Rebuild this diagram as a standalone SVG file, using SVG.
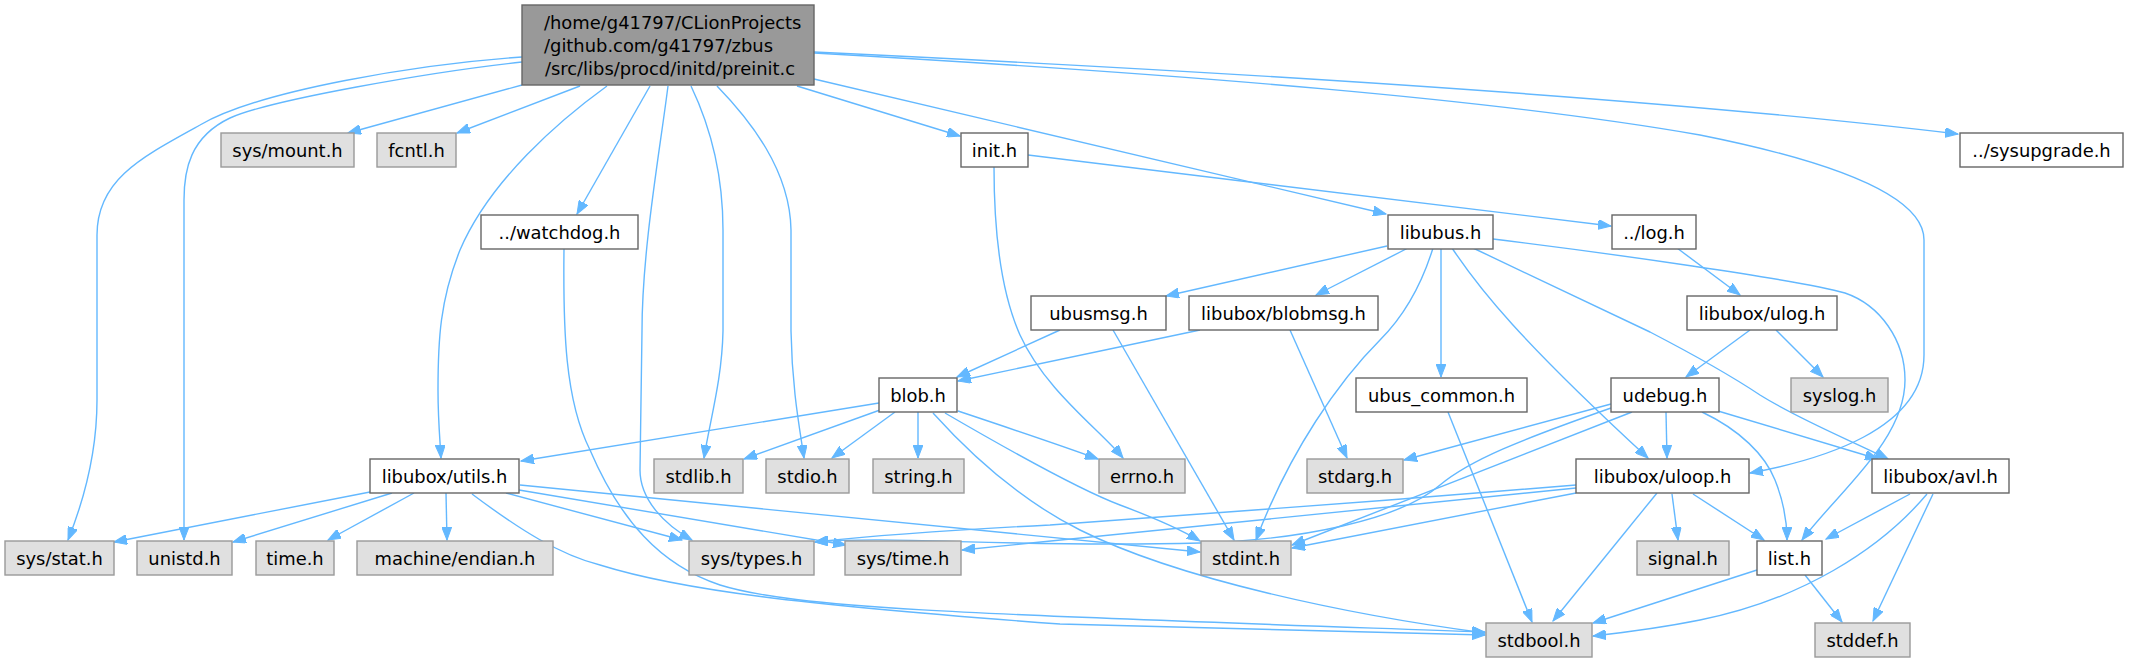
<svg xmlns="http://www.w3.org/2000/svg" width="2140" height="662" viewBox="0 0 2140 662">
<style>
.n rect{stroke-width:1.4}
.w rect{fill:#ffffff;stroke:#666666}
.g rect{fill:#e0e0e0;stroke:#999999}
.m rect{fill:#999999;stroke:#666666}
text{font-family:"DejaVu Sans",Verdana,sans-serif;font-size:17.9px;fill:#000000}
.c{text-anchor:middle}
#edges path{fill:none;stroke:#63b8ff;stroke-width:1.4;marker-end:url(#ah)}
</style>
<defs>
<marker id="ah" markerUnits="userSpaceOnUse" markerWidth="14" markerHeight="10" refX="13" refY="5" orient="auto">
<path d="M0,0 L13,5 L0,10 z" fill="#63b8ff" stroke="#63b8ff" stroke-width="1"/>
</marker>
</defs>
<rect width="2140" height="662" fill="#ffffff"/>
<g id="edges">
<path d="M522,57 C420,64 260,90 200,125 C140,158 97,180 97,235 L97,400 C97,460 80,510 68,540"/>
<path d="M522,62 C430,72 270,100 230,118 C190,137 184,170 184,200 L184,540"/>
<path d="M522,85 L348,133"/>
<path d="M580,86 L457,133"/>
<path d="M607,86 C560,120 490,180 460,250 C440,300 438,340 438,390 C438,420 440,440 441,458"/>
<path d="M650,86 L577,214"/>
<path d="M668,86 C660,150 642,250 642,331 L640,470 C640,500 665,525 692,540"/>
<path d="M691,86 C712,130 723,180 723,230 L723,331 C722,380 710,420 704,458"/>
<path d="M717,86 C750,120 790,170 791,230 L791,331 C792,390 800,430 804,458"/>
<path d="M797,86 L960,136"/>
<path d="M814,79 L1386,214"/>
<path d="M814,52 C1300,75 1700,103 1958,134"/>
<path d="M814,53 C1200,75 1500,100 1700,135 C1850,165 1924,200 1924,240 L1924,355 C1924,430 1820,460 1750,473"/>
<path d="M564,248 C563,330 565,400 590,450 C620,520 660,565 720,585 C800,610 1000,615 1485,632"/>
<path d="M1028,155 L1611,226"/>
<path d="M994,167 C994,230 1000,290 1020,335 C1045,390 1100,430 1123,458"/>
<path d="M1677,248 L1740,295"/>
<path d="M1750,330 L1686,377"/>
<path d="M1776,330 L1823,377"/>
<path d="M1387,246 L1166,296"/>
<path d="M1408,248 L1316,295"/>
<path d="M1433,248 C1420,290 1400,320 1380,340 C1340,380 1290,450 1256,540"/>
<path d="M1441,248 L1441,377"/>
<path d="M1452,248 C1480,290 1520,340 1648,458"/>
<path d="M1473,248 L1650,332 C1700,358 1730,375 1760,395 C1800,420 1850,440 1888,459"/>
<path d="M1493,239 C1600,252 1800,280 1845,293 C1880,305 1905,340 1905,380 C1905,440 1840,490 1802,540"/>
<path d="M1060,330 L957,377"/>
<path d="M1113,330 L1234,540"/>
<path d="M1200,330 L958,381"/>
<path d="M1290,330 L1347,458"/>
<path d="M879,403 L521,461"/>
<path d="M880,410 L744,459"/>
<path d="M895,412 L832,458"/>
<path d="M918,412 L918,458"/>
<path d="M958,411 C1000,425 1060,445 1098,459"/>
<path d="M945,413 C1000,445 1080,490 1120,505 C1160,520 1185,532 1200,541"/>
<path d="M933,413 C980,465 1030,505 1080,530 C1180,580 1350,615 1485,633"/>
<path d="M1448,412 L1532,622"/>
<path d="M1611,404 L1404,460"/>
<path d="M1632,412 L1292,545"/>
<path d="M1611,408 C1520,440 1470,460 1440,485 C1400,520 1300,540 1200,543 C1000,548 900,535 815,542"/>
<path d="M1666,412 L1667,458"/>
<path d="M1702,412 C1740,430 1765,455 1775,480 C1785,505 1787,525 1787,540"/>
<path d="M1718,411 L1878,459"/>
<path d="M1576,485 C1400,500 1150,518 1050,525 C950,530 880,535 815,542"/>
<path d="M1576,488 L962,550"/>
<path d="M1576,493 L1292,548"/>
<path d="M1657,493 L1553,621"/>
<path d="M1672,494 L1678,540"/>
<path d="M1693,494 L1764,540"/>
<path d="M1910,494 L1826,539"/>
<path d="M1933,494 L1873,621"/>
<path d="M1927,494 C1880,550 1800,600 1700,620 C1660,628 1620,633 1593,636"/>
<path d="M1805,575 L1842,622"/>
<path d="M1757,570 L1593,623"/>
<path d="M370,492 L114,542"/>
<path d="M392,493 L233,542"/>
<path d="M414,493 L328,540"/>
<path d="M446,493 L447,540"/>
<path d="M506,493 L682,540"/>
<path d="M519,490 L846,545"/>
<path d="M520,485 L1200,552"/>
<path d="M472,494 C520,530 560,555 600,565 C680,590 800,605 1060,624 L1485,635"/>
</g>
<g id="n_main" class="n m"><rect x="522" y="5" width="292" height="80"/><text x="544" y="29.3">/home/g41797/CLionProjects</text><text x="544" y="52.3">/github.com/g41797/zbus</text><text class="c" x="670" y="75.3">/src/libs/procd/initd/preinit.c</text></g>
<g id="n_sysmount" class="n g"><rect x="221" y="133" width="133" height="34"/><text class="c" x="287.5" y="156.5">sys/mount.h</text></g>
<g id="n_fcntl" class="n g"><rect x="377" y="133" width="79" height="34"/><text class="c" x="416.5" y="156.5">fcntl.h</text></g>
<g id="n_init" class="n w"><rect x="961" y="133" width="67" height="34"/><text class="c" x="994.5" y="156.5">init.h</text></g>
<g id="n_sysupgrade" class="n w"><rect x="1960" y="133" width="163" height="34"/><text class="c" x="2041.5" y="156.5">../sysupgrade.h</text></g>
<g id="n_watchdog" class="n w"><rect x="481" y="215" width="157" height="34"/><text class="c" x="559.5" y="238.5">../watchdog.h</text></g>
<g id="n_libubus" class="n w"><rect x="1388" y="215" width="105" height="34"/><text class="c" x="1440.5" y="238.5">libubus.h</text></g>
<g id="n_log" class="n w"><rect x="1612" y="215" width="84" height="34"/><text class="c" x="1654" y="238.5">../log.h</text></g>
<g id="n_ubusmsg" class="n w"><rect x="1031" y="296" width="135" height="34"/><text class="c" x="1098.5" y="319.5">ubusmsg.h</text></g>
<g id="n_blobmsg" class="n w"><rect x="1189" y="296" width="189" height="34"/><text class="c" x="1283.5" y="319.5">libubox/blobmsg.h</text></g>
<g id="n_ulog" class="n w"><rect x="1687" y="296" width="150" height="34"/><text class="c" x="1762" y="319.5">libubox/ulog.h</text></g>
<g id="n_blob" class="n w"><rect x="879" y="378" width="78" height="34"/><text class="c" x="918" y="401.5">blob.h</text></g>
<g id="n_ubus_common" class="n w"><rect x="1356" y="378" width="171" height="34"/><text class="c" x="1441.5" y="401.5">ubus_common.h</text></g>
<g id="n_udebug" class="n w"><rect x="1611" y="378" width="108" height="34"/><text class="c" x="1665" y="401.5">udebug.h</text></g>
<g id="n_syslog" class="n g"><rect x="1791" y="378" width="97" height="34"/><text class="c" x="1839.5" y="401.5">syslog.h</text></g>
<g id="n_utils" class="n w"><rect x="370" y="459" width="149" height="34"/><text class="c" x="444.5" y="482.5">libubox/utils.h</text></g>
<g id="n_stdlib" class="n g"><rect x="654" y="459" width="89" height="34"/><text class="c" x="698.5" y="482.5">stdlib.h</text></g>
<g id="n_stdio" class="n g"><rect x="766" y="459" width="83" height="34"/><text class="c" x="807.5" y="482.5">stdio.h</text></g>
<g id="n_string" class="n g"><rect x="873" y="459" width="91" height="34"/><text class="c" x="918.5" y="482.5">string.h</text></g>
<g id="n_errno" class="n g"><rect x="1099" y="459" width="86" height="34"/><text class="c" x="1142" y="482.5">errno.h</text></g>
<g id="n_stdarg" class="n g"><rect x="1307" y="459" width="96" height="34"/><text class="c" x="1355" y="482.5">stdarg.h</text></g>
<g id="n_uloop" class="n w"><rect x="1576" y="459" width="173" height="34"/><text class="c" x="1662.5" y="482.5">libubox/uloop.h</text></g>
<g id="n_avl" class="n w"><rect x="1872" y="459" width="137" height="34"/><text class="c" x="1940.5" y="482.5">libubox/avl.h</text></g>
<g id="n_sysstat" class="n g"><rect x="5" y="541" width="109" height="34"/><text class="c" x="59.5" y="564.5">sys/stat.h</text></g>
<g id="n_unistd" class="n g"><rect x="137" y="541" width="95" height="34"/><text class="c" x="184.5" y="564.5">unistd.h</text></g>
<g id="n_time" class="n g"><rect x="256" y="541" width="78" height="34"/><text class="c" x="295" y="564.5">time.h</text></g>
<g id="n_endian" class="n g"><rect x="357" y="541" width="196" height="34"/><text class="c" x="455" y="564.5">machine/endian.h</text></g>
<g id="n_systypes" class="n g"><rect x="689" y="541" width="125" height="34"/><text class="c" x="751.5" y="564.5">sys/types.h</text></g>
<g id="n_systime" class="n g"><rect x="845" y="541" width="116" height="34"/><text class="c" x="903" y="564.5">sys/time.h</text></g>
<g id="n_stdint" class="n g"><rect x="1201" y="541" width="90" height="34"/><text class="c" x="1246" y="564.5">stdint.h</text></g>
<g id="n_signal" class="n g"><rect x="1637" y="541" width="92" height="34"/><text class="c" x="1683" y="564.5">signal.h</text></g>
<g id="n_list" class="n w"><rect x="1757" y="541" width="65" height="34"/><text class="c" x="1789.5" y="564.5">list.h</text></g>
<g id="n_stdbool" class="n g"><rect x="1486" y="623" width="106" height="34"/><text class="c" x="1539" y="646.5">stdbool.h</text></g>
<g id="n_stddef" class="n g"><rect x="1815" y="623" width="95" height="34"/><text class="c" x="1862.5" y="646.5">stddef.h</text></g>
</svg>
